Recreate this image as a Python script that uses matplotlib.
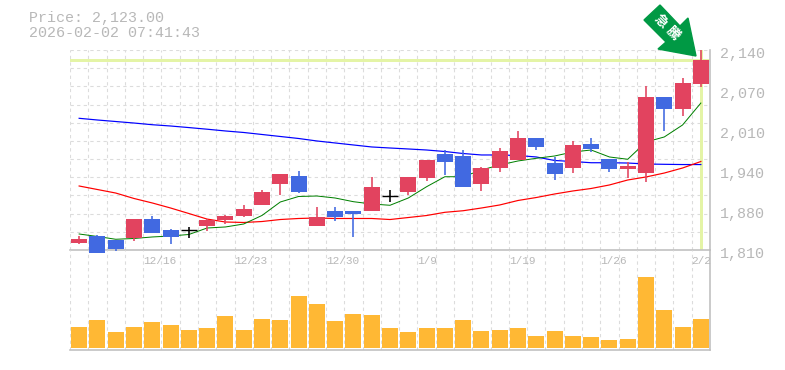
import numpy as np
from matplotlib import pyplot as plt
from matplotlib.patches import Polygon
from matplotlib.transforms import IdentityTransform

plt.rcParams['font.family'] = ['Liberation Mono', 'Noto Sans CJK JP', 'DejaVu Sans']

# 日足データ
opens = [1821.5, 1833, 1826.5, 1830, 1861, 1843, 1843, 1850, 1859.5, 1866, 1884, 1919, 1932,
         1850, 1874, 1874, 1874, 1899, 1906, 1928.8, 1968.4, 1965, 1919, 1945, 1958.5,
         1994.8, 1953.6, 1945, 1985, 1960, 1943.6, 1937, 2062.5, 2042.7, 2083.9]
closes = [1828, 1805, 1811.5, 1861, 1838, 1831.5, 1843, 1859.5, 1866, 1877.6, 1906, 1935, 1906,
          1864.5, 1864.5, 1869, 1914, 1899, 1930.5, 1958.5, 1955, 1914, 1945, 1973.7, 1994.8,
          1980, 1935, 1983, 1976.7, 1943.6, 1948.6, 2062.5, 2042.7, 2085.6, 2123]
highs = [1833, 1835, 1826.5, 1861, 1866, 1845, 1848, 1861, 1868, 1884, 1909, 1935, 1940,
         1881, 1881, 1874, 1930.5, 1909, 1930.5, 1958.5, 1975, 1975, 1947, 1978, 2006,
         1994.8, 1963.5, 1990, 1994.8, 1960, 1955, 2080.6, 2062.5, 2093.8, 2140]
lows = [1820, 1805, 1808, 1825, 1838, 1820, 1830, 1841, 1853, 1864.5, 1884, 1901, 1904,
        1850, 1858, 1831.5, 1874, 1889, 1901, 1924, 1933.8, 1914, 1907, 1938.7, 1958.5,
        1975, 1925.5, 1937, 1971.7, 1938.7, 1928.8, 1922, 2006, 2031, 2079]

ma_short = [1836.4, 1832.3, 1827.7, 1829, 1831.5, 1833.1, 1835.6, 1846.3, 1848, 1852.9, 1867, 1889.2, 1898.3,
            1899.1, 1895.8, 1889.7, 1885.9, 1883.8, 1895.8, 1914.4, 1930.9, 1930.9, 1942, 1950.3, 1956.9,
            1961.3, 1965.1, 1971.7, 1975, 1963.5, 1959.7, 1988.2, 1996.5, 2016.3, 2052.5]
ma_mid = [1915.6, 1909.8, 1904, 1895, 1887.6, 1879.3, 1870.2, 1861, 1856.2, 1855.4, 1857, 1860.3, 1862,
          1862.8, 1862, 1862, 1862, 1860.3, 1863.6, 1866.9, 1872.2, 1874.8, 1879.3, 1884.3, 1891.7,
          1896.6, 1902.4, 1907.4, 1911.5, 1917.3, 1925.5, 1930.5, 1937, 1945.3, 1956]
ma_long = [2027.3, 2024.5, 2022, 2019.5, 2016.7, 2014.6, 2012, 2009.3, 2006.4, 2003.9, 2000.6, 1997.3, 1994,
           1989.9, 1986.6, 1983.3, 1980, 1978.3, 1976.7, 1975, 1972.5, 1969.2, 1966.8, 1966.8, 1965.9,
           1963.5, 1957.7, 1956, 1954, 1954, 1953.5, 1951.9, 1951.4, 1951, 1951]

volumes = [21, 28, 16, 21, 26, 23, 18, 20, 32, 18, 29, 28, 52, 44, 27, 34, 33, 20,
           16, 20, 20, 28, 17, 18, 20, 12, 17, 12, 11, 8, 9, 71, 38, 21, 29]

date_ticks = [4, 9, 14, 19, 24, 29, 34]
date_labels = ['12/16', '12/23', '12/30', '1/9', '1/19', '1/26', '2/2']
price_ticks = [2140, 2074, 2008, 1942, 1876, 1810]
price_labels = ['2,140', '2,070', '2,010', '1,940', '1,880', '1,810']
last_price = 2123

W, H = 785, 370
LEFT, RIGHT, TOP, MID, BOTTOM = 70, 710, 50, 250, 350
GREY = '#bfbfbf'
GRID = '#dcdcdc'
TEXT = '#b8b8b8'
UP = '#e2435f'
DOWN = '#4169e1'
PX = 0.72  # 1px in pt

fig = plt.figure(figsize=(W / 100, H / 100), dpi=100)
ax = fig.add_axes([LEFT / W, 1 - MID / H, (RIGHT - LEFT) / W, (MID - TOP) / H])
ax2 = fig.add_axes([LEFT / W, 1 - BOTTOM / H, (RIGHT - LEFT) / W, (BOTTOM - MID) / H])

n = len(closes)
x = np.arange(n)

for a in (ax, ax2):
    a.set_xlim(-0.5, n - 0.5)
    a.set_xticks(np.arange(n + 1) - 0.5)
    a.tick_params(length=0, labelbottom=False, labelleft=False)
    a.grid(True, axis='x', color=GRID, lw=PX * 1.1, linestyle=(0, (3, 3)))
    a.set_axisbelow(True)
    a.patch.set_alpha(0)
    for s in ('left', 'top'):
        a.spines[s].set_visible(False)
    for s in ('right', 'bottom'):
        a.spines[s].set_color(GREY)
        a.spines[s].set_linewidth(PX * 1.6)

ax.set_ylim(1810, 2140)
ax.set_yticks(np.linspace(1810, 2140, 12))
ax.grid(True, axis='y', color=GRID, lw=PX * 1.1, linestyle=(0, (3, 3)))
ax2.set_ylim(-2, 98)
ax2.set_yticks([])

# 現在値のライン
ax.axhline(last_price, color='#e4f4a6', lw=PX * 3, zorder=1.5)
ax.axvline(x[-1], color='#e4f4a6', lw=PX * 3, zorder=1.5)

ax.plot(x, ma_long, color='#0000ff', lw=PX * 1.2, zorder=2)
ax.plot(x, ma_mid, color='#ff0000', lw=PX * 1.2, zorder=2)
ax.plot(x, ma_short, color='#008000', lw=PX * 1.0, zorder=2)

for i in range(n):
    if closes[i] > opens[i]:
        c = UP
    elif closes[i] < opens[i]:
        c = DOWN
    else:
        c = 'black'
    ax.vlines(x[i], lows[i], highs[i], color=c, lw=PX * 1.6, zorder=3, clip_on=False)
    if c == 'black':
        ax.hlines(closes[i], x[i] - 0.45, x[i] + 0.45, color=c, lw=PX * 1.4, zorder=3)
    else:
        ax.bar(x[i], closes[i] - opens[i], bottom=opens[i], width=0.88, color=c, zorder=3, clip_on=False)

ax2.bar(x, volumes, width=0.88, color='#ffb834', zorder=3)

# 日付
for i, lab in zip(date_ticks, date_labels):
    ax2.annotate(lab, (i - 0.5, 1), xycoords=('data', 'axes fraction'), xytext=(0, -4.5),
                 textcoords='offset points', color=TEXT, fontsize=8, ha='left', va='top')

# 価格ラベル
for p, lab in zip(price_ticks, price_labels):
    ax.annotate(lab, (1, p), xycoords=('axes fraction', 'data'), xytext=(7, -2.8),
                textcoords='offset points', color=TEXT, fontsize=10.8, ha='left', va='center',
                annotation_clip=False)

fig.text(29 / W, 1 - 18 / H, 'Price: 2,123.00', color=TEXT, fontsize=10.8, ha='left', va='center')
fig.text(29 / W, 1 - 33 / H, '2026-02-02 07:41:43', color=TEXT, fontsize=10.8, ha='left', va='center')

# 矢印
arrow = [(660, 5), (644, 20), (666, 42), (658, 49), (696, 56), (688, 18), (680, 26)]
fig.add_artist(Polygon([(px, H - py) for px, py in arrow], closed=True, color='#009944',
                       transform=IdentityTransform(), zorder=5))
fig.text(661 / W, 1 - 21.5 / H, '急', color='white', fontsize=9.5, fontweight='bold', rotation=-45,
         ha='center', va='center', family=['Noto Sans CJK JP'], zorder=6)
fig.text(672.5 / W, 1 - 33 / H, '騰', color='white', fontsize=9.5, fontweight='bold', rotation=-45,
         ha='center', va='center', family=['Noto Sans CJK JP'], zorder=6)

fig.savefig('out.png', dpi=100)
